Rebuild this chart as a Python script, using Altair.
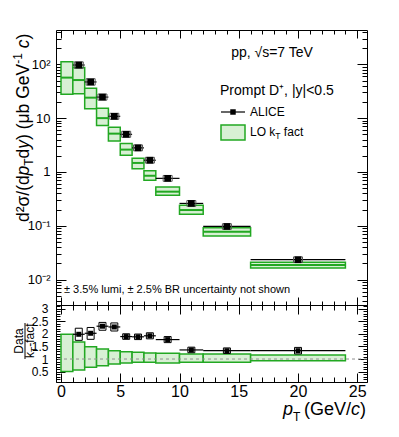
import altair as alt
import pandas as pd

FONT = "Liberation Sans"
GREEN = "#22a822"
GFILL = "#d8f0d4"

W, H1, H2 = 311, 275, 77
XDOM = [0, 25.4]
YDOM = [0.00337, 434]
RDOM = [0.09, 3.14]

# ---------------- data ----------------
th_lo = [0, 1, 2, 3, 4, 5, 6, 7, 8, 10, 12, 16]
th_hi = [1, 2, 3, 4, 5, 6, 7, 8, 10, 12, 16, 24]
th_low = [27.7, 28.5, 15.0, 7.3, 3.75, 2.04, 1.15, 0.70, 0.367, 0.163, 0.0645, 0.0164]
th_cen = [56.6, 51.0, 24.0, 10.0, 5.15, 2.6, 1.47, 0.85, 0.43, 0.196, 0.0776, 0.0186]
th_high = [112, 86.8, 35.8, 15.2, 6.75, 3.36, 1.79, 1.05, 0.525, 0.24, 0.092, 0.0209]
rt_low = [0.51, 0.57, 0.67, 0.73, 0.80, 0.84, 0.87, 0.87, 0.84, 0.87, 0.87, 0.93]
rt_high = [1.98, 1.67, 1.49, 1.40, 1.33, 1.29, 1.27, 1.24, 1.23, 1.20, 1.20, 1.16]

d_lo = [1, 2, 3, 4, 5, 6, 7, 8, 10, 12, 16]
d_hi = [2, 3, 4, 5, 6, 7, 8, 10, 12, 16, 24]
d_x = [1.5, 2.5, 3.5, 4.5, 5.5, 6.5, 7.5, 9, 11, 14, 20]
d_val = [97, 47, 24.6, 10.8, 5.0, 2.8, 1.65, 0.76, 0.26, 0.097, 0.0234]
d_slo = [84, 41, 21.6, 9.5, 4.4, 2.47, 1.46, 0.67, 0.23, 0.086, 0.0207]
d_shi = [111, 54, 28, 12.3, 5.7, 3.18, 1.87, 0.86, 0.294, 0.109, 0.0264]
r_val = [1.98, 2.02, 2.30, 2.27, 1.89, 1.88, 1.92, 1.77, 1.36, 1.33, 1.33]
r_slo = [1.74, 1.78, 2.14, 2.11, 1.78, 1.77, 1.80, 1.65, 1.25, 1.22, 1.20]
r_shi = [2.22, 2.25, 2.45, 2.43, 2.00, 1.99, 2.04, 1.89, 1.47, 1.44, 1.46]

y_major = [0.01, 0.1, 1, 10, 100]
x_major = [0, 5, 10, 15, 20, 25]
r_major = [0.5, 1, 1.5, 2, 2.5, 3]

theory = pd.DataFrame(dict(lo=th_lo, hi=th_hi, low=th_low, cen=th_cen, high=th_high,
                           rlow=rt_low, rhigh=rt_high))
data = pd.DataFrame(dict(lo=d_lo, hi=d_hi, x=d_x, val=d_val, slo=d_slo, shi=d_shi,
                         r=r_val, rslo=r_slo, rshi=r_shi))
one = pd.DataFrame(dict(v=[1.0]))
dummy = pd.DataFrame(dict(a=[0]))

# ---------------- tick helpers ----------------
x_ticks = list(range(0, 26))
y_ticks = sorted({round(m * 10.0 ** e, 6) for e in range(-3, 3) for m in range(1, 10)
                  if YDOM[0] <= m * 10.0 ** e <= YDOM[1]})
r_ticks = [round(0.1 * i, 1) for i in range(1, 32)]

X_TEST = "datum.value % 5 == 0"
Y_TEST = "indexof([0.01, 0.1, 1, 10, 100], datum.value) >= 0"
R_TEST = "abs(datum.value * 2 - round(datum.value * 2)) < 0.001"


def tick_axis(orient, offset, values, test, big, small):
    return alt.Axis(orient=orient, offset=offset, values=values, labels=False, domain=False,
                    grid=False, title=None, ticks=True, tickColor="black", tickWidth=1,
                    tickSize={"condition": {"test": test, "value": big}, "value": small})


xs = alt.Scale(domain=XDOM, nice=False, zero=False)
ys = alt.Scale(type="log", domain=YDOM, nice=False)
rs = alt.Scale(domain=RDOM, nice=False, zero=False)

AW = {"d": .556, "²": .333, "σ": .6, "/": .278, "(": .333, ")": .333, "p": .556, "T": .611,
      "y": .5, " ": .278, "μ": .576, "b": .556, "G": .778, "e": .556, "V": .667, "-": .333,
      "1": .556, "c": .5, "k": .5, "f": .278, "a": .556, "t": .278, "D": .722, "L": .556,
      "O": .778}


def tw(s, size):
    return sum(AW.get(ch, .556) for ch in s) * size


def txt(s, x, y, size, align="left", baseline="middle", angle=0, italic=False):
    kw = dict(text=s, font=FONT, fontSize=size, align=align, baseline=baseline, color="black")
    if angle:
        kw["angle"] = angle
    if italic:
        kw["fontStyle"] = "italic"
    return alt.Chart(dummy).mark_text(**kw).encode(x=alt.value(x), y=alt.value(y))


def rot_pieces(pieces, x0, y0):
    out, cur = [], y0
    for s, size, italic, dx in pieces:
        lead = len(s) - len(s.lstrip(" "))
        cur -= tw(" " * lead, size)
        s = s.lstrip(" ")
        if s:
            out.append(txt(s, x0 + dx, cur, size, baseline="alphabetic", angle=270, italic=italic))
            cur -= tw(s, size)
    return out


def hor_pieces(pieces, x0, y0):
    out, cur = [], x0
    for s, size, italic, dy in pieces:
        lead = len(s) - len(s.lstrip(" "))
        cur += tw(" " * lead, size)
        s = s.lstrip(" ")
        if s:
            out.append(txt(s, cur, y0 + dy, size, baseline="alphabetic", italic=italic))
            cur += tw(s, size)
    return out


# ---------------- top panel ----------------
t_rect = alt.Chart(theory).mark_rect(fill=GFILL, stroke=GREEN, strokeWidth=1.5).encode(
    x=alt.X("lo:Q", scale=xs, axis=tick_axis("bottom", -H1, x_ticks, X_TEST, 8, 4)),
    x2="hi:Q",
    y=alt.Y("low:Q", scale=ys,
            axis=alt.Axis(orient="left", values=y_major, ticks=False, tickSize=0, domain=False,
                          grid=False, title=None, labelPadding=6, labelFontSize=13,
                          labelOverlap=False,
                          labelExpr="datum.value > 50 ? '10²' : datum.value > 5 ? '10' : "
                                    "datum.value > 0.5 ? '1' : datum.value > 0.05 ? '10⁻¹' : '10⁻²'")),
    y2="high:Q")
t_cen = alt.Chart(theory).mark_rule(color=GREEN, strokeWidth=2).encode(
    x=alt.X("lo:Q", scale=xs, axis=tick_axis("top", -H1, x_ticks, X_TEST, 8, 4)),
    x2="hi:Q",
    y=alt.Y("cen:Q", scale=ys, axis=tick_axis("right", -W, y_ticks, Y_TEST, 10, 5)))
d_rule = alt.Chart(data).mark_rule(color="black", strokeWidth=1.2).encode(
    x=alt.X("lo:Q", scale=xs, axis=None), x2="hi:Q",
    y=alt.Y("val:Q", scale=ys, axis=tick_axis("left", -W, y_ticks, Y_TEST, 10, 5)))
d_sys = alt.Chart(data).mark_bar(width=9, fillOpacity=0, stroke="#555555", strokeWidth=1).encode(
    x=alt.X("x:Q", scale=xs, axis=None),
    y=alt.Y("slo:Q", scale=ys, axis=None), y2="shi:Q")
d_pt = alt.Chart(data).mark_point(shape="square", filled=True, size=45, color="black", opacity=1).encode(
    x=alt.X("x:Q", scale=xs, axis=None),
    y=alt.Y("val:Q", scale=ys, axis=None))

anchor = alt.Chart(dummy).mark_rect(opacity=0).encode(
    x=alt.value(-47), x2=alt.value(-46), y=alt.value(-21), y2=alt.value(-20))

leg_line = alt.Chart(dummy).mark_rule(color="black", strokeWidth=1.2).encode(
    x=alt.value(165), x2=alt.value(189), y=alt.value(82))
leg_pt = alt.Chart(dummy).mark_point(shape="square", filled=True, size=30, color="black", opacity=1).encode(
    x=alt.value(177), y=alt.value(82))
leg_box = alt.Chart(dummy).mark_rect(fill=GFILL, stroke=GREEN, strokeWidth=1.5).encode(
    x=alt.value(165), x2=alt.value(189), y=alt.value(95), y2=alt.value(110))

top_texts = [
    txt("pp, √s=7 TeV", 216, 23, 14, align="center"),
    txt("Prompt D⁺, |y|<0.5", 164, 61, 14),
    txt("ALICE", 194, 82, 12),
    txt("± 3.5% lumi, ± 2.5% BR uncertainty not shown", 8, 260, 11),
]
top_texts += hor_pieces([("LO k", 12, False, 0), ("T", 8.5, False, 3), (" fact", 12, False, 0)], 194, 106)
top_texts += rot_pieces([("d²σ/(d", 17.5, False, 0), ("p", 17.5, True, 0), ("T", 12, False, 4),
                         ("d", 17.5, False, 0), ("y", 17.5, True, 0), (") (μb GeV", 17.5, False, 0),
                         ("-1", 12, False, -7), (" c", 17.5, True, 0),
                         (")", 17.5, False, 0)], -27, 192)

top = alt.layer(t_rect, t_cen, d_rule, d_sys, d_pt, anchor, leg_line, leg_box, leg_pt, *top_texts).resolve_axis(
    x="independent", y="independent").properties(width=W, height=H1)

# ---------------- bottom (ratio) panel ----------------
r_rect = alt.Chart(theory).mark_rect(fill=GFILL, stroke=GREEN, strokeWidth=1.5).encode(
    x=alt.X("lo:Q", scale=xs,
            axis=alt.Axis(orient="bottom", values=x_major, ticks=False, tickSize=0, domain=False,
                          grid=False, title=None, labelPadding=1, labelFontSize=16, labelFlush=False,
                          labelOverlap=False, format="d")),
    x2="hi:Q",
    y=alt.Y("rlow:Q", scale=rs,
            axis=alt.Axis(orient="left", values=r_major, ticks=False, tickSize=0, domain=False,
                          grid=False, title=None, labelPadding=8, labelFontSize=12, format="~g",
                          labelOverlap=False, labelBound=False, labelFlush=False)),
    y2="rhigh:Q")
r_one = alt.Chart(one).mark_rule(color="#909090", strokeDash=[3, 3], strokeWidth=1).encode(
    y=alt.Y("v:Q", scale=rs, axis=None))
r_rule = alt.Chart(data).mark_rule(color="black", strokeWidth=1.2).encode(
    x=alt.X("lo:Q", scale=xs, axis=tick_axis("top", -H2, x_ticks, X_TEST, 9, 5)), x2="hi:Q",
    y=alt.Y("r:Q", scale=rs, axis=tick_axis("right", -W, r_ticks, R_TEST, 9, 4)))
r_sys = alt.Chart(data).mark_bar(width=7, fillOpacity=0, stroke="black", strokeWidth=1).encode(
    x=alt.X("x:Q", scale=xs, axis=tick_axis("bottom", -H2, x_ticks, X_TEST, 9, 5)),
    y=alt.Y("rslo:Q", scale=rs, axis=tick_axis("left", -W, r_ticks, R_TEST, 9, 4)), y2="rshi:Q")
r_pt = alt.Chart(data).mark_point(shape="square", filled=True, size=25, color="black", opacity=1).encode(
    x=alt.X("x:Q", scale=xs, axis=None),
    y=alt.Y("r:Q", scale=rs, axis=None))

frac = alt.Chart(dummy).mark_rule(color="black", strokeWidth=1).encode(
    x=alt.value(-31), y=alt.value(18), y2=alt.value(54))
bot_texts = [txt("Data", -33, 36, 12, align="center", baseline="alphabetic", angle=270)]
bot_texts += rot_pieces([("k", 12, False, 0), ("T", 8.5, False, 3), ("-fact", 12, False, 0)], -22, 53)
bot_texts += hor_pieces([("p", 18, True, 0), ("T", 12, False, 6)], 227, 110)
bot_texts += hor_pieces([("(GeV/", 18, False, 0), ("c", 18, True, 0), (")", 18, False, 0)], 248, 110)

bottom = alt.layer(r_rect, r_one, r_rule, r_sys, r_pt, frac, *bot_texts).resolve_axis(
    x="independent", y="independent").properties(width=W, height=H2)

chart = alt.vconcat(top, bottom, spacing=0, bounds="flush").properties(
    padding=0, autosize=alt.AutoSizeParams(type="pad"), background="white"
).configure_view(stroke="black", strokeWidth=1).configure_axis(
    labelFont=FONT, labelColor="black", tickColor="black")

chart.save("out.html", embed_options={"renderer": "svg", "actions": False})
